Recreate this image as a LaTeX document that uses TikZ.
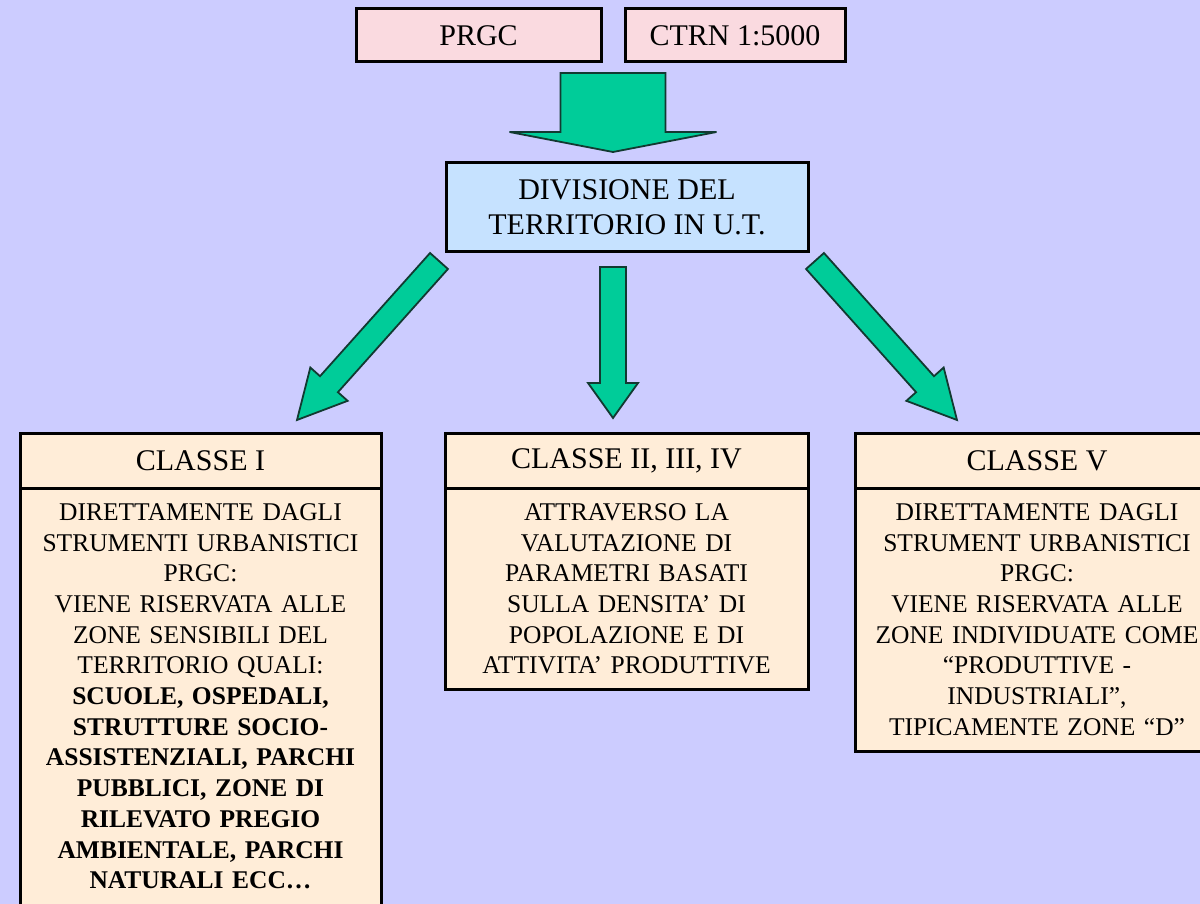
\documentclass[tikz,border=0pt]{standalone}
\usepackage{fontspec}
\setmainfont{Liberation Serif}
\usetikzlibrary{calc,positioning}

\definecolor{bgc}{HTML}{CCCCFF}
\definecolor{pinkc}{HTML}{FADAE0}
\definecolor{bluec}{HTML}{C6E2FF}
\definecolor{creamc}{HTML}{FFEDD8}
\definecolor{greenc}{HTML}{00CC99}
\definecolor{edgec}{HTML}{123A31}

\tikzset{
  box/.style={draw=black, line width=3pt, outer sep=0pt, inner sep=0pt, align=center},
  topbox/.style={box, fill=pinkc, minimum height=53pt, font=\fontsize{30}{35}\selectfont},
  divbox/.style={box, fill=bluec, minimum width=362pt, minimum height=89pt, font=\fontsize{30}{35}\selectfont},
  classhead/.style={box, fill=creamc, minimum height=55pt, font=\fontsize{30}{35}\selectfont},
  classbody/.style={box, fill=creamc, inner ysep=15.5pt, font=\fontsize{25.5}{30.7}\selectfont},
  fatarrow/.style={fill=greenc, draw=edgec, line width=1.8pt, line join=miter}
}

% block arrow from tail #1 to tip #2: shaft width #3, head width #4, head length #5
\newcommand\fatarrow[5]{%
  \draw[fatarrow] let \p1=(#1), \p2=(#2),
    \n1={atan2(\y2-\y1,\x2-\x1)}, \n2={veclen(\x2-\x1,\y2-\y1)} in
    [shift={(\p1)}, rotate=\n1]
    (0pt,-#3pt/2) -- (\n2-#5pt,-#3pt/2) -- (\n2-#5pt,-#4pt/2) -- (\n2,0pt)
    -- (\n2-#5pt,#4pt/2) -- (\n2-#5pt,#3pt/2) -- (0pt,#3pt/2) -- cycle;}

\begin{document}
\begin{tikzpicture}[x=1pt, y=-1pt]
  \useasboundingbox (0,0) rectangle (1200,904);
  \clip (0,0) rectangle (1200,904);
  \fill[bgc] (0,0) rectangle (1200,904);

  % sources
  \node[topbox, minimum width=245pt] (prgc) at (478.5,35.5) {PRGC};
  \node[topbox, minimum width=220pt] (ctrn) at (735,35.5) {CTRN 1:5000};

  % territory division
  \node[divbox] (div) at (627,207.5) {DIVISIONE DEL\\TERRITORIO IN U.T.};

  % classes
  \node[classhead, minimum width=361pt] (c1h) at (200.5,460.5) {CLASSE I};
  \node[classbody, text width=361pt, below=0pt of c1h] (c1b) {%
    DIRETTAMENTE DAGLI\\
    STRUMENTI URBANISTICI\\
    PRGC:\\
    VIENE RISERVATA ALLE\\
    ZONE SENSIBILI DEL\\
    TERRITORIO QUALI:\\
    \textbf{SCUOLE, OSPEDALI,}\\
    \textbf{STRUTTURE SOCIO-}\\
    \textbf{ASSISTENZIALI, PARCHI}\\
    \textbf{PUBBLICI, ZONE DI}\\
    \textbf{RILEVATO PREGIO}\\
    \textbf{AMBIENTALE, PARCHI}\\
    \textbf{NATURALI ECC…}\\[-10pt]\mbox{}};

  \node[classhead, minimum width=363pt] (c2h) at (626.5,460.5) {CLASSE II, III, IV};
  \node[classbody, text width=363pt, below=0pt of c2h] (c2b) {%
    ATTRAVERSO LA\\
    VALUTAZIONE DI\\
    PARAMETRI BASATI\\
    SULLA DENSITA' DI\\
    POPOLAZIONE E DI\\
    ATTIVITA' PRODUTTIVE};

  \node[classhead, minimum width=364pt] (c3h) at (1037,460.5) {CLASSE V};
  \node[classbody, text width=364pt, below=0pt of c3h] (c3b) {%
    DIRETTAMENTE DAGLI\\
    STRUMENT URBANISTICI\\
    PRGC:\\
    VIENE RISERVATA ALLE\\
    ZONE INDIVIDUATE COME\\
    “PRODUTTIVE -\\
    INDUSTRIALI”,\\
    TIPICAMENTE ZONE “D”};

  % arrow end points
  \coordinate (t0) at ($(prgc.south east)!0.5!(ctrn.south west)+(0,11)$);
  \coordinate (t1) at ($(t0)+(0,79)$);
  \coordinate (m0) at ($(div.south)+(-14,15)$);
  \coordinate (m1) at ($(c2h.north)+(-13.5,-15)$);
  \coordinate (l0) at ($(div.south west)+(-7,9)$);
  \coordinate (l1) at ($(c1h.north east)+(-84,-13)$);
  \coordinate (r0) at ($(div.south east)+(7,9)$);
  \coordinate (r1) at ($(c3h.north west)+(102,-13)$);

  % block arrows
  \fatarrow{t0}{t1}{105}{207}{20}
  \fatarrow{m0}{m1}{26}{50}{35}
  \fatarrow{l0}{l1}{24}{50}{48}
  \fatarrow{r0}{r1}{24}{50}{48}
\end{tikzpicture}
\end{document}
